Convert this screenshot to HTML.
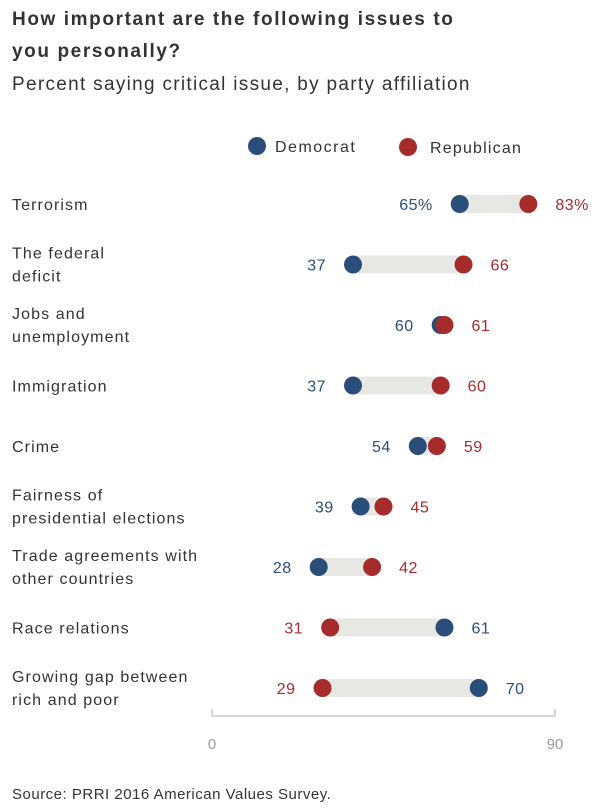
<!DOCTYPE html>
<html><head><meta charset="utf-8"><style>
body{margin:0;background:#fff;font-family:"Liberation Sans",sans-serif;}
#wrap{position:relative;width:600px;height:810px;overflow:hidden;}
.t{position:absolute;left:12px;color:#222;}
</style></head><body>
<div id="wrap">
<div class="t" style="top:4px;font-weight:bold;font-size:19px;letter-spacing:1.6px;line-height:32px;color:#333">How important are the following issues to<br>you personally?</div>
<div class="t" style="top:74px;font-size:19px;letter-spacing:1.3px;color:#333">Percent saying critical issue, by party affiliation</div>
<svg id="svg" width="600" height="810" style="position:absolute;left:0;top:0"></svg>
<div class="t" style="top:786px;font-size:15px;letter-spacing:0.5px;color:#333">Source: PRRI 2016 American Values Survey.</div>
</div>
<script>
const categories=[["Terrorism"],["The federal","deficit"],["Jobs and","unemployment"],["Immigration"],["Crime"],["Fairness of","presidential elections"],["Trade agreements with","other countries"],["Race relations"],["Growing gap between","rich and poor"]];
const democrat=[65,37,60,37,54,39,28,61,70];
const republican=[83,66,61,60,59,45,42,31,29];
const tickLabels=[0,90];
const NS="http://www.w3.org/2000/svg";
const svg=document.getElementById('svg');
const DEM="#2a4e7a",REP="#a62b2b";
const x=v=>212+v*(555-212)/90;
const y=i=>204+i*60.5;
function el(t,a,p){const e=document.createElementNS(NS,t);for(const k in a)e.setAttribute(k,a[k]);(p||svg).appendChild(e);return e;}
let g=el('circle',{cx:257,cy:146,r:9,fill:DEM});

g=el('text',{x:275,y:152,'font-size':16,'letter-spacing':1.5,fill:'#333'});g.textContent='Democrat';

g=el('circle',{cx:408,cy:147,r:9,fill:REP});

g=el('text',{x:430,y:153,'font-size':16,'letter-spacing':1.2,fill:'#333'});g.textContent='Republican';

g=el('path',{d:`M${x(0)} 709V716H${x(90)}V709`,stroke:'#ccc','stroke-width':1.5,fill:'none'});

tickLabels.forEach(v=>{const t=el('text',{x:x(v),y:749,'font-size':15,fill:'#999','text-anchor':'middle'});t.textContent=v;
});
categories.forEach((c,i)=>{
  const cy=y(i);
  const lab=el('text',{x:12,'font-size':16,'letter-spacing':1.1,fill:'#333'});
  
  c.forEach((s,j)=>{const ts=el('tspan',{x:12,y:cy+6+(c.length==2?(j?11:-12):0)},lab);ts.textContent=s;});
  const d=democrat[i],r=republican[i],lo=Math.min(d,r),hi=Math.max(d,r);
  const bar=el('rect',{x:x(lo),y:cy-9,width:x(hi)-x(lo),height:18,fill:'#e7e7e4'});
  
  const pts=[[d,DEM,'democrat'],[r,REP,'republican']];
  if(d>r)pts.reverse();
  pts.forEach(([v,col,n])=>{const cc=el('circle',{cx:x(v),cy:cy,r:9,fill:col});
    });
  const suf=i==0?'%':'';
  const dl=d<=r, ll=el('text',{x:x(lo)-27,y:cy+6,'font-size':16,'letter-spacing':0.5,fill:dl?DEM:REP,'text-anchor':'end'});
  ll.textContent=lo+suf;
  const hl=el('text',{x:x(hi)+27,y:cy+6,'font-size':16,'letter-spacing':0.5,fill:dl?REP:DEM});
  hl.textContent=hi+suf;
});
</script>
</body></html>
